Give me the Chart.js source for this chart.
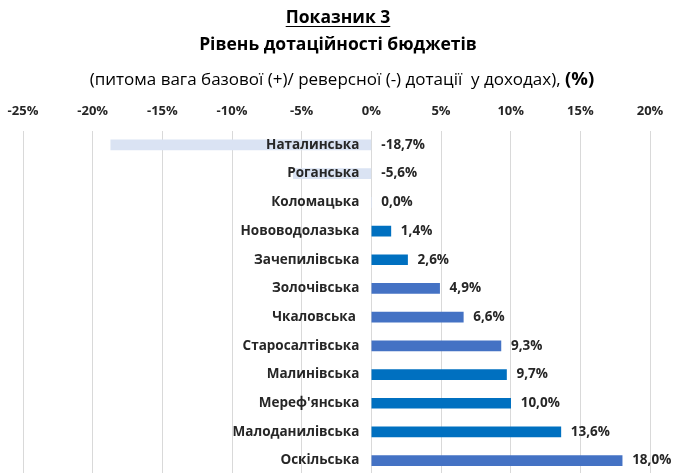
<!DOCTYPE html>
<html>
<head>
<meta charset="utf-8">
<script src="https://cdn.jsdelivr.net/npm/chart.js@4.4.1/dist/chart.umd.min.js"></script>
<style>
  html, body { margin: 0; padding: 0; background: #fff; overflow: hidden; }
  #wrap { position: relative; width: 676px; height: 476px; }
  #chart { position: absolute; left: 0; top: 0; }
  .t { position: absolute; left: 0; width: 676px; text-align: center; font-family: "Open Sans", sans-serif; color: #000; white-space: pre; }
  #t1 { top: 4px; font-size: 17.5px; font-weight: bold; text-decoration: underline; text-underline-offset: 3px; }
  #t2 { top: 31px; font-size: 17.5px; font-weight: bold; }
  #t3 { top: 65px; font-size: 17px; left: 4px; }
  #t3 b { font-size: 18.5px; }
</style>
</head>
<body>
<div id="wrap">
  <canvas id="chart" width="676" height="476"></canvas>
  <div class="t" id="t1">Показник 3</div>
  <div class="t" id="t2">Рівень дотаційності бюджетів</div>
  <div class="t" id="t3">(питома вага базової (+)/ реверсної (-) дотації  у доходах), <b>(%)</b></div>
</div>
<script>
const communities = ['Наталинська', 'Роганська', 'Коломацька', 'Нововодолазька', 'Зачепилівська', 'Золочівська',
  'Чкаловська ', 'Старосалтівська', 'Малинівська', "Мереф'янська", 'Малоданилівська', 'Оскільська'];
const shares = [-18.7, -5.6, 0.0, 1.4, 2.6, 4.9, 6.6, 9.3, 9.7, 10.0, 13.6, 18.0];
const barColors = ['#dae3f3', '#dae3f3', '#dae3f3', '#0070c0', '#0070c0', '#4472c4',
  '#4472c4', '#4472c4', '#0070c0', '#0070c0', '#0070c0', '#4472c4'];

const labelFont = 'bold 13.5px "Open Sans", sans-serif';

// category names left of zero and values right of the bars, drawn over the bars
const barLabels = {
  id: 'barLabels',
  afterDatasetsDraw(chart) {
    const ctx = chart.ctx;
    const xs = chart.scales.x;
    const ys = chart.scales.y;
    const zero = xs.getPixelForValue(0);
    ctx.save();
    ctx.font = labelFont;
    ctx.fillStyle = '#262626';
    ctx.textBaseline = 'middle';
    chart.data.labels.forEach((name, i) => {
      const y = ys.getPixelForValue(i);
      ctx.textAlign = 'right';
      ctx.fillText(name, zero - 12, y);
      const v = shares[i];
      ctx.textAlign = 'left';
      ctx.fillText(v.toFixed(1).replace('.', ',') + '%', xs.getPixelForValue(Math.max(v, 0)) + 10, y);
    });
    ctx.restore();
  }
};

new Chart(document.getElementById('chart'), {
  type: 'bar',
  data: {
    labels: communities,
    datasets: [{
      data: shares,
      backgroundColor: barColors,
      borderWidth: 0,
      barThickness: 10,
    }],
  },
  options: {
    indexAxis: 'y',
    responsive: false,
    animation: false,
    layout: { padding: { top: 91, left: 23, right: 26, bottom: 1 } },
    plugins: { legend: { display: false }, tooltip: { enabled: false } },
    scales: {
      x: {
        position: 'top',
        min: -25,
        max: 20,
        afterFit: s => { s.paddingLeft = 0; s.paddingRight = 0; },
        ticks: {
          stepSize: 5,
          padding: 12,
          color: '#262626',
          font: { family: '"Open Sans", sans-serif', size: 13, weight: 'bold' },
          callback: v => v + '%',
        },
        grid: { color: '#d9d9d9', lineWidth: 1, drawTicks: false },
        border: { display: false },
      },
      y: { display: false },
    },
  },
  plugins: [barLabels],
});
</script>
</body>
</html>
